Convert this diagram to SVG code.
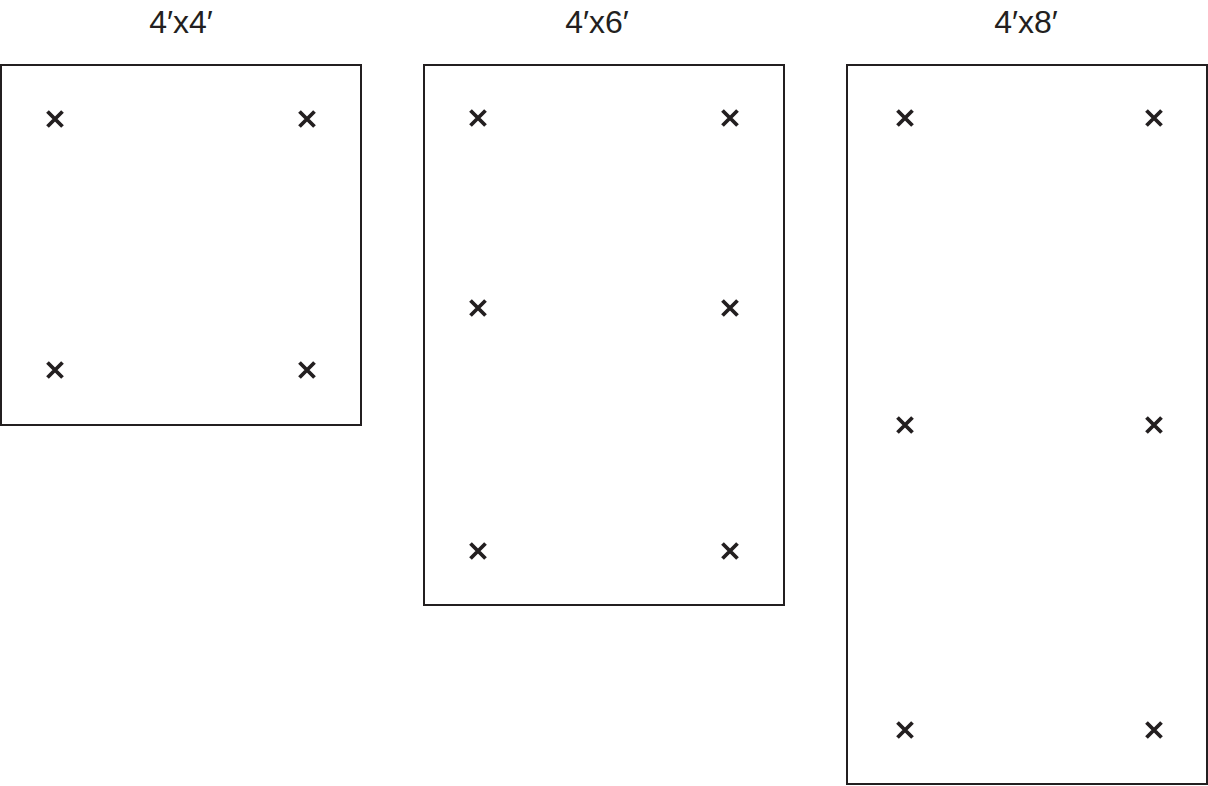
<svg xmlns="http://www.w3.org/2000/svg" width="1208" height="786" viewBox="0 0 1208 786">
<defs>
<style>
.box{fill:#fff;stroke:#231f20;stroke-width:2}
.lbl{font-family:"Liberation Sans",Arial,sans-serif;font-size:32px;fill:#231f20;text-anchor:middle}
.x{stroke:#231f20;stroke-width:3.8;fill:none}
</style>
<path id="m" class="x" d="M-7.5,-7.5L7.5,7.5M7.5,-7.5L-7.5,7.5"/>
</defs>
<rect width="1208" height="786" fill="#fff"/>
<g id="panel-4x4">
<text class="lbl" x="181" y="33">4′x4′</text>
<rect class="box" x="1" y="65" width="360" height="360"/>
<use href="#m" x="55" y="119"/><use href="#m" x="307" y="119"/>
<use href="#m" x="55" y="370"/><use href="#m" x="307" y="370"/>
</g>
<g id="panel-4x6">
<text class="lbl" x="597" y="33">4′x6′</text>
<rect class="box" x="424" y="65" width="360" height="540"/>
<use href="#m" x="478" y="118"/><use href="#m" x="730" y="118"/>
<use href="#m" x="478" y="308"/><use href="#m" x="730" y="308"/>
<use href="#m" x="478" y="551"/><use href="#m" x="730" y="551"/>
</g>
<g id="panel-4x8">
<text class="lbl" x="1026" y="33">4′x8′</text>
<rect class="box" x="847" y="65" width="360" height="719"/>
<use href="#m" x="905" y="118"/><use href="#m" x="1154" y="118"/>
<use href="#m" x="905" y="425"/><use href="#m" x="1154" y="425"/>
<use href="#m" x="905" y="730"/><use href="#m" x="1154" y="730"/>
</g>
<g id="connectors"/>
</svg>
